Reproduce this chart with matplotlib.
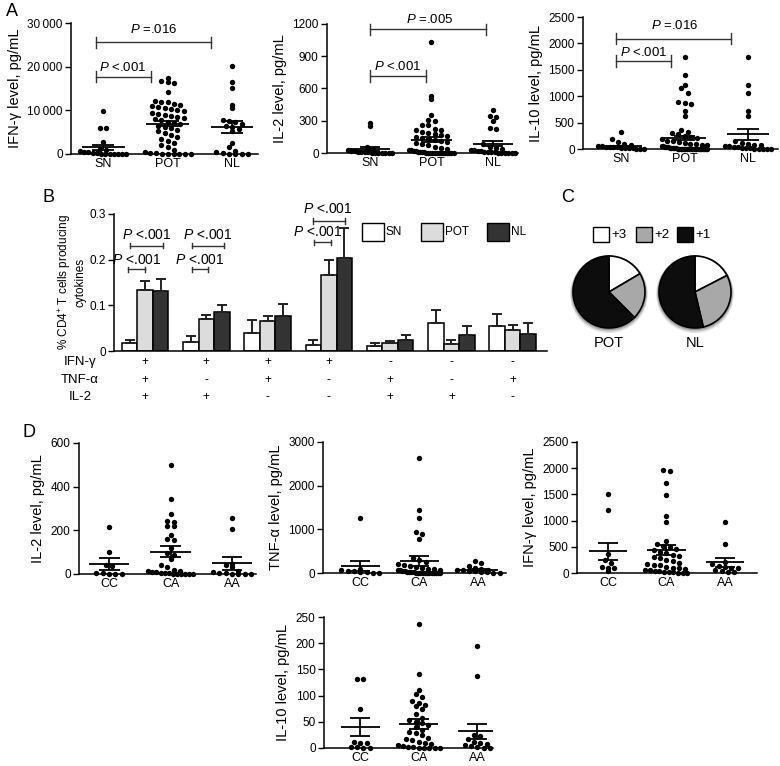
import numpy as np
import matplotlib
matplotlib.use('Agg')
import matplotlib.pyplot as plt
from matplotlib.patches import Rectangle, Circle

plt.rcParams['font.family'] = ['Liberation Sans', 'DejaVu Sans']
plt.rcParams['mathtext.fontset'] = 'custom'
plt.rcParams['mathtext.it'] = 'Liberation Sans:italic'
plt.rcParams['mathtext.rm'] = 'Liberation Sans'

# ---------------- DATA ----------------
groups_A = ['SN', 'POT', 'NL']
groups_D = ['CC', 'CA', 'AA']

# Panel A1: IFN-gamma
a1_SN = [9800, 6000, 5900, 2800, 1200, 900, 700, 500, 400, 300, 200, 100, 100, 50, 50, 0, 0, 0]
a1_POT = [17400, 16700, 16500, 16300, 14300, 12200, 12000, 11800, 11500, 11300, 11000, 10800, 10500,
          10300, 10000, 9800, 9500, 9200, 9000, 8700, 8500, 8200, 8000, 7700, 7400, 7000, 6800, 6500,
          6200, 6000, 5600, 5200, 4800, 4400, 4000, 3500, 3000, 2500, 2000, 1500, 1000, 500, 300, 200,
          100, 0, 0, 0, 0, 0]
a1_NL = [20200, 16600, 15100, 11300, 10600, 7700, 7500, 7300, 6900, 6400, 6100, 5800, 5200, 2600, 1500,
         800, 400, 200, 100, 0, 0, 0]
a1_mean = [1500, 6950, 6100]
a1_sem = [650, 650, 1400]

# Panel A2: IL-2
a2_SN = [280, 255, 60, 40, 30, 20, 15, 10, 10, 5, 5, 0, 0, 0, 0, 0, 0, 0]
a2_POT = [1035, 530, 500, 350, 305, 300, 260, 260, 220, 215, 210, 200, 190, 180, 170, 160, 150, 140, 130,
          120, 110, 100, 90, 80, 70, 60, 50, 40, 30, 25, 20, 15, 10, 10, 5, 5, 0, 0, 0, 0, 0, 0, 0, 0,
          0, 0, 0, 0, 0, 0]
a2_NL = [400, 345, 335, 300, 235, 225, 80, 60, 50, 40, 30, 25, 20, 15, 10, 10, 5, 5, 0, 0, 0, 0, 0, 0]
a2_mean = [35, 124, 87]
a2_sem = [20, 25, 25]

# Panel A3: IL-10
a3_SN = [320, 180, 140, 90, 70, 60, 50, 40, 40, 30, 30, 20, 20, 10, 10, 5, 5, 0]
a3_POT = [1750, 1400, 1220, 1160, 1070, 890, 880, 850, 720, 620, 360, 330, 300, 280, 250, 220, 200, 180,
          160, 150, 140, 120, 100, 90, 80, 70, 60, 50, 40, 35, 30, 25, 20, 15, 10, 10, 5, 5, 0, 0, 0, 0,
          0, 0, 0, 0, 0, 0, 0, 0, 0, 0, 0, 0, 0, 0]
a3_NL = [1750, 1220, 1070, 720, 620, 160, 120, 90, 80, 70, 60, 50, 40, 30, 20, 15, 10, 5, 0, 0, 0, 0]
a3_mean = [50, 210, 275]
a3_sem = [15, 45, 105]

# Panel B: % CD4+ T cells producing cytokines
b_ifn = ['+', '+', '+', '+', '-', '-', '-']
b_tnf = ['+', '-', '+', '-', '+', '-', '+']
b_il2 = ['+', '+', '-', '-', '+', '+', '-']
b_SN_mean = [0.018, 0.019, 0.039, 0.013, 0.012, 0.062, 0.055]
b_SN_sem = [0.007, 0.014, 0.029, 0.010, 0.006, 0.028, 0.027]
b_POT_mean = [0.133, 0.069, 0.065, 0.167, 0.0175, 0.016, 0.047]
b_POT_sem = [0.021, 0.010, 0.012, 0.032, 0.0035, 0.007, 0.011]
b_NL_mean = [0.131, 0.086, 0.077, 0.204, 0.023, 0.036, 0.038]
b_NL_sem = [0.026, 0.015, 0.027, 0.066, 0.012, 0.019, 0.023]

# Panel C: polyfunctionality (+3, +2, +1) percentages
c_labels = ['+3', '+2', '+1']
c_POT = [16.5, 21.0, 62.5]
c_NL = [17.4, 28.9, 53.7]

# Panel D1: IL-2
d1_CC = [213, 103, 40, 35, 5, 5, 0, 0, 0]
d1_CA = [497, 343, 273, 245, 240, 220, 218, 180, 160, 155, 120, 95, 85, 70, 40, 30, 20, 15, 12, 10, 8,
         5, 5, 3, 0, 0, 0, 0, 0, 0]
d1_AA = [258, 207, 45, 40, 30, 15, 10, 5, 5, 0, 0, 0, 0]
d1_mean = [46, 103, 50]
d1_sem = [28, 25, 30]

# Panel D2: TNF-alpha
d2_CC = [1260, 90, 70, 50, 40, 30, 20, 10, 0]
d2_CA = [2640, 1450, 1270, 940, 900, 790, 350, 300, 250, 200, 180, 150, 130, 110, 100, 90, 80, 70, 60,
         50, 40, 30, 25, 20, 15, 10, 10, 5, 5, 0, 0, 0, 0, 0, 0, 0, 0]
d2_AA = [265, 230, 150, 120, 100, 80, 70, 60, 50, 40, 30, 20, 10, 5]
d2_mean = [168, 275, 76]
d2_sem = [115, 105, 25]

# Panel D3: IFN-gamma
d3_CC = [1500, 1195, 360, 250, 190, 110, 100, 90, 40]
d3_CA = [1975, 1945, 1710, 1480, 1090, 970, 620, 550, 520, 500, 460, 430, 400, 380, 350, 320, 300, 280,
         250, 230, 200, 180, 160, 150, 120, 100, 90, 80, 60, 50, 40, 30, 20, 15, 10, 5, 0, 0]
d3_AA = [970, 550, 210, 170, 140, 120, 100, 90, 60, 40, 20, 10]
d3_mean = [413, 433, 204]
d3_sem = [160, 95, 85]

# Panel D4: IL-10
d4_CC = [131, 131, 75, 12, 10, 9, 2, 1, 0, 0]
d4_CA = [236, 141, 111, 104, 97, 90, 85, 83, 80, 75, 65, 58, 54, 50, 47, 44, 40, 35, 30, 28, 25, 20, 18,
         15, 12, 10, 8, 5, 4, 2, 1, 0, 0, 0, 0, 0]
d4_AA = [194, 138, 25, 22, 18, 12, 10, 8, 5, 3, 1, 0, 0]
d4_mean = [40, 46, 32]
d4_sem = [17, 10, 14]

# ---------------- FIGURE ----------------
W, H = 780, 766
fig = plt.figure(figsize=(W / 100, H / 100), dpi=100)
fig.patch.set_facecolor('white')


def add_ax(l, r, t, b):
    return fig.add_axes([l / W, 1 - b / H, (r - l) / W, (b - t) / H])


def style_ax(ax):
    for s in ['top', 'right']:
        ax.spines[s].set_visible(False)
    for s in ['left', 'bottom']:
        ax.spines[s].set_linewidth(1.1)
    ax.tick_params(axis='y', length=4, width=1.0, labelsize=8.5, pad=2)
    ax.tick_params(axis='x', length=0, labelsize=9, pad=3)


def swarm(vals, ymax, h_px, unit_px, dot_px=5.5, bin_px=6.5, maxw=0.36):
    v = np.sort(np.asarray(vals, float))[::-1]
    binsize = ymax * bin_px / h_px
    rows = {}
    for val in v:
        rows.setdefault(int(round(val / binsize)), []).append(val)
    dx = dot_px * 1.15 / unit_px
    xs, ys = [], []
    for key, rv in rows.items():
        n = len(rv)
        step = min(dx, 2 * maxw / (n - 1)) if n > 1 else 0
        for j, val in enumerate(rv):
            xs.append((j - (n - 1) / 2) * step)
            ys.append(val)
    return np.array(xs), np.array(ys)


def dot_panel(box, data, means, sems, cats, ymax, yticks, ytl, ylabel, xlim):
    ax = add_ax(*box)
    style_ax(ax)
    ax.set_xlim(*xlim)
    ax.set_ylim(0, ymax)
    h_px = box[3] - box[2]
    unit_px = (box[1] - box[0]) / (xlim[1] - xlim[0])
    for i, vals in enumerate(data):
        xs, ys = swarm(vals, ymax, h_px, unit_px)
        ax.scatter(i + xs, ys, s=15, color='black', linewidths=0, clip_on=False, zorder=3)
        m, s = means[i], sems[i]
        kw = dict(color='black', lw=1.3, zorder=4, solid_capstyle='butt')
        ax.plot([i - 0.33, i + 0.33], [m, m], **kw)
        ax.plot([i - 0.17, i + 0.17], [m + s, m + s], **kw)
        ax.plot([i - 0.17, i + 0.17], [m - s, m - s], **kw)
        ax.plot([i, i], [m - s, m + s], **kw)
    ax.set_xticks(range(len(cats)))
    ax.set_xticklabels(cats)
    ax.set_yticks(yticks)
    ax.set_yticklabels(ytl)
    ax.set_ylabel(ylabel, fontsize=10.5, labelpad=4)
    return ax


def bracket(ax, x0, x1, y, tick, text, tx, ty, fs=9.5):
    kw = dict(color='#333333', lw=1.0, clip_on=False)
    ax.plot([x0, x1], [y, y], **kw)
    ax.plot([x0, x0], [y - tick, y + tick], **kw)
    ax.plot([x1, x1], [y - tick, y + tick], **kw)
    ax.text(tx, ty, text, ha='center', va='center', fontsize=fs, clip_on=False)


thin = '\u2009'
# A1
ax = dot_panel((71, 258, 23, 154), [a1_SN, a1_POT, a1_NL], a1_mean, a1_sem, groups_A, 30000,
               [0, 10000, 20000, 30000], ['0', '10' + thin + '000', '20' + thin + '000', '30' + thin + '000'],
               'IFN-γ level, pg/mL', (-0.5, 2.4))
bracket(ax, -0.11, 0.74, 17700, 1300, r'$P$ <.001', 0.31, 19700)
bracket(ax, -0.11, 1.67, 25600, 1300, r'$P$ =.016', 0.78, 28600)
# A2
ax = dot_panel((327, 518, 24, 153), [a2_SN, a2_POT, a2_NL], a2_mean, a2_sem, groups_A, 1200,
               [0, 300, 600, 900, 1200], ['0', '300', '600', '900', '1200'],
               'IL-2 level, pg/mL', (-0.70, 2.41))
bracket(ax, 0.0, 0.91, 717, 52, r'$P$ <.001', 0.45, 805)
bracket(ax, 0.0, 1.89, 1150, 52, r'$P$ =.005', 0.97, 1245)
# A3
ax = dot_panel((583, 778, 17, 149), [a3_SN, a3_POT, a3_NL], a3_mean, a3_sem, groups_A, 2500,
               [0, 500, 1000, 1500, 2000, 2500], ['0', '500', '1000', '1500', '2000', '2500'],
               'IL-10 level, pg/mL', (-0.6, 2.47))
bracket(ax, -0.08, 0.79, 1667, 110, r'$P$ <.001', 0.36, 1825)
bracket(ax, -0.08, 1.73, 2090, 110, r'$P$ =.016', 0.84, 2345)

# ---------------- B ----------------
bl, br, bt, bb = 114, 547, 214, 351
axb = add_ax(bl, br, bt, bb)
style_ax(axb)
axb.set_xlim(-0.506, 6.56)
axb.set_ylim(0, 0.3)
x = np.arange(len(b_ifn))
bw = 0.253
for off, mean, sem, col in [(-bw, b_SN_mean, b_SN_sem, 'white'),
                            (0, b_POT_mean, b_POT_sem, '#dcdcdc'),
                            (bw, b_NL_mean, b_NL_sem, '#333333')]:
    axb.bar(x + off, mean, width=bw, color=col, edgecolor='black', linewidth=1.1, zorder=2)
    axb.errorbar(x + off, mean, yerr=[np.zeros(len(mean)), sem], fmt='none', ecolor='#222222',
                 elinewidth=1.4, capsize=3.5, capthick=1.4, zorder=3, clip_on=False)
axb.set_xticks([])
axb.set_yticks([0, 0.1, 0.2, 0.3])
axb.set_yticklabels(['0', '0.1', '0.2', '0.3'])
axb.set_ylabel('% CD4$^{+}$ T cells producing\ncytokines', fontsize=8.5, labelpad=2, linespacing=1.2)
bracket(axb, -0.28, 0.0, 0.179, 0.006, r'$P$ <.001', -0.14, 0.200, fs=10)
bracket(axb, -0.24, 0.29, 0.231, 0.006, r'$P$ <.001', 0.03, 0.255, fs=10)
bracket(axb, 1 - 0.23, 1 + 0.03, 0.179, 0.006, r'$P$ <.001', 1 - 0.10, 0.200, fs=10)
bracket(axb, 1 - 0.23, 1 + 0.29, 0.231, 0.006, r'$P$ <.001', 1 + 0.03, 0.255, fs=10)
bracket(axb, 3 - 0.245, 3 + 0.03, 0.238, 0.006, r'$P$ <.001', 3 - 0.18, 0.261, fs=10)
bracket(axb, 3 - 0.26, 3 + 0.26, 0.285, 0.006, r'$P$ <.001', 3 - 0.02, 0.310, fs=10)

# row labels and signs
unit = (br - bl) / (6.56 + 0.506)
for row_y, name, signs in [(362, 'IFN-γ', b_ifn), (380, 'TNF-α', b_tnf), (397, 'IL-2', b_il2)]:
    fig.text(80 / W, 1 - row_y / H, name, ha='center', va='center', fontsize=9.5)
    for i, sg in enumerate(signs):
        px = bl + (i + 0.506) * unit
        fig.text(px / W, 1 - row_y / H, sg, ha='center', va='center', fontsize=8.5)


def fig_box(x0, y0, w, h, fc):
    fig.add_artist(Rectangle((x0 / W, 1 - (y0 + h) / H), w / W, h / H, transform=fig.transFigure,
                             facecolor=fc, edgecolor='black', linewidth=1.0))


# legend B
for x0, lab, fc in [(362, 'SN', 'white'), (421, 'POT', '#dcdcdc'), (487, 'NL', '#333333')]:
    fig_box(x0, 223, 22, 18, fc)
    fig.text((x0 + 24) / W, 1 - 232 / H, lab, ha='left', va='center', fontsize=8.5)

# ---------------- C ----------------
c_colors = ['white', '#a8a8a8', '#0d0d0d']
for cx, fr, lab in [(609, c_POT, 'POT'), (695, c_NL, 'NL')]:
    axp = add_ax(cx - 36, cx + 36, 292 - 36, 292 + 36)
    for k, (dx, dy, a) in enumerate([(0.0, -0.06, 0.10), (0.0, -0.04, 0.15), (0.0, -0.02, 0.2)]):
        axp.add_patch(Circle((dx, dy), 1.04 + 0.02 * (2 - k), color='black', alpha=a, zorder=0,
                             clip_on=False, linewidth=0))
    axp.pie(fr, colors=c_colors, startangle=90, counterclock=False,
            wedgeprops=dict(edgecolor='black', linewidth=1.2))
    axp.set_xlim(-1, 1)
    axp.set_ylim(-1, 1)
    axp.set_aspect('equal')
    axp.axis('off')
    fig.text(cx / W, 1 - 343 / H, lab, ha='center', va='center', fontsize=10.5)

for x0, lab, fc in [(593, '+3', 'white'), (636, '+2', '#a8a8a8'), (677, '+1', '#0d0d0d')]:
    fig_box(x0, 227, 16, 15, fc)
    fig.text((x0 + 18) / W, 1 - 234.5 / H, lab, ha='left', va='center', fontsize=9.5)

# ---------------- D ----------------
dot_panel((79, 256, 443, 574), [d1_CC, d1_CA, d1_AA], d1_mean, d1_sem, groups_D, 600,
          [0, 200, 400, 600], ['0', '200', '400', '600'], 'IL-2 level, pg/mL', (-0.49, 2.39))
dot_panel((323, 506, 442, 573), [d2_CC, d2_CA, d2_AA], d2_mean, d2_sem, groups_D, 3000,
          [0, 1000, 2000, 3000], ['0', '1000', '2000', '3000'], 'TNF-α level, pg/mL', (-0.63, 2.47))
dot_panel((577, 757, 442, 573), [d3_CC, d3_CA, d3_AA], d3_mean, d3_sem, groups_D, 2500,
          [0, 500, 1000, 1500, 2000, 2500], ['0', '500', '1000', '1500', '2000', '2500'],
          'IFN-γ level, pg/mL', (-0.53, 2.55))
dot_panel((324, 493, 617, 748), [d4_CC, d4_CA, d4_AA], d4_mean, d4_sem, groups_D, 250,
          [0, 50, 100, 150, 200, 250], ['0', '50', '100', '150', '200', '250'],
          'IL-10 level, pg/mL', (-0.62, 2.27))

# panel letters
for lx, ly, L in [(12, 12, 'A'), (48, 198, 'B'), (568, 197, 'C'), (29, 432, 'D')]:
    fig.text(lx / W, 1 - ly / H, L, ha='center', va='center', fontsize=13)

fig.savefig('out.png', dpi=100, facecolor='white')
